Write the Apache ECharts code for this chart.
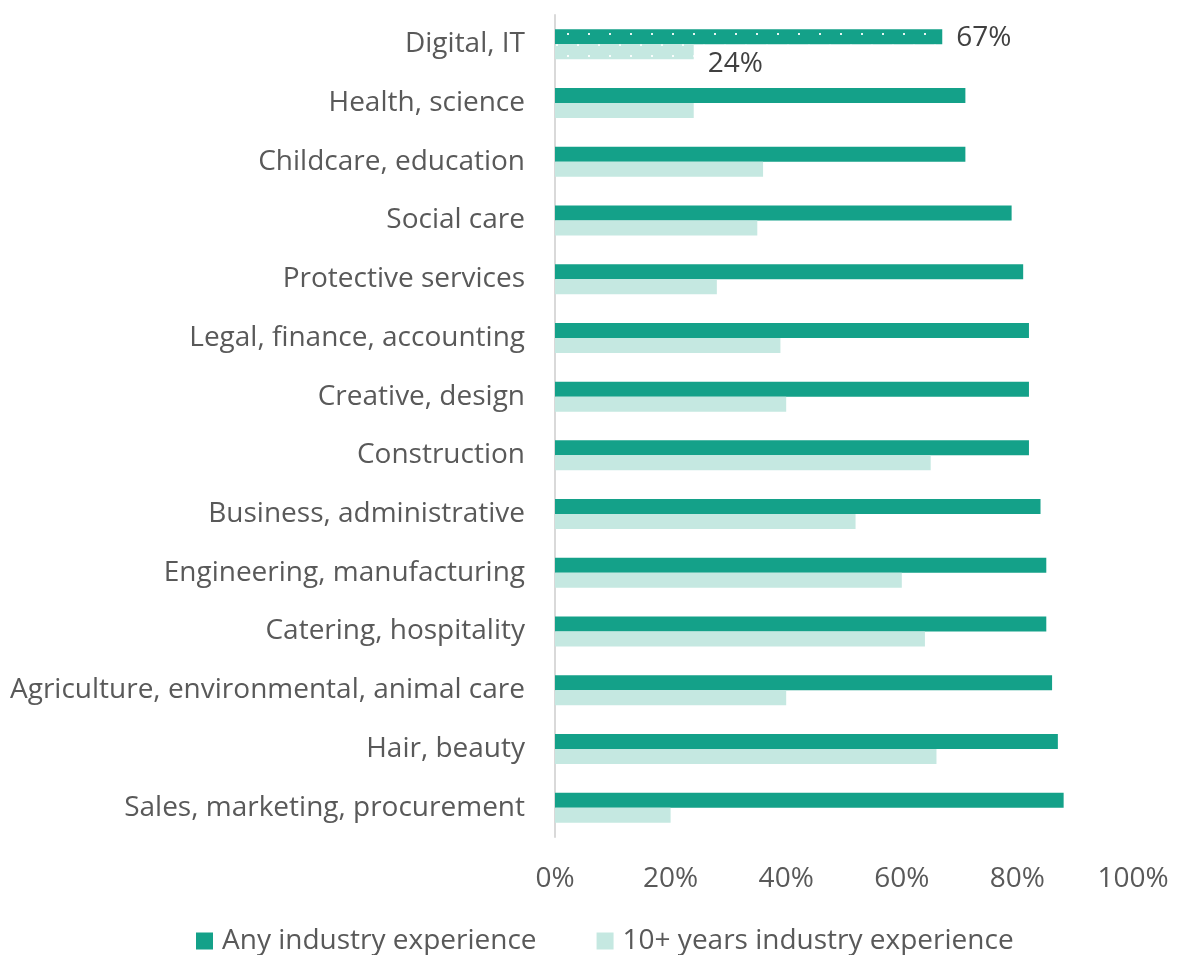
<!DOCTYPE html>
<html>
<head>
<meta charset="utf-8">
<script src="https://cdn.jsdelivr.net/npm/echarts@6/dist/echarts.min.js"></script>
<style>
  html, body { margin: 0; padding: 0; background: #fff; }
  #chart { width: 1178px; height: 955px; }
</style>
</head>
<body>
<div id="chart"></div>
<script>
// Share of job postings by sector
const categories = [
  'Digital, IT', 'Health, science', 'Childcare, education', 'Social care',
  'Protective services', 'Legal, finance, accounting', 'Creative, design',
  'Construction', 'Business, administrative', 'Engineering, manufacturing',
  'Catering, hospitality', 'Agriculture, environmental, animal care',
  'Hair, beauty', 'Sales, marketing, procurement'
];
const anyExperience = [67, 71, 71, 79, 81, 82, 82, 82, 84, 85, 85, 86, 87, 88];
const tenPlusExperience = [24, 24, 36, 35, 28, 39, 40, 65, 52, 60, 64, 40, 66, 20];
const seriesNames = ['Any industry experience', '10+ years industry experience'];
const labelledCategory = 'Digital, IT';

const FONT = 'Open Sans';
const FS = 28;
const DARK = '#14A189';
const LIGHT = '#C5E8E1';

// Dotted fill used for the highlighted sector
const dots = {
  symbol: 'rect',
  symbolSize: 1,
  color: 'rgba(255,255,255,0.9)',
  dashArrayX: [[2, 19], [0, 10, 2, 9]],
  dashArrayY: [2, 8.5],
  rotation: 0
};

function buildData(values, labelOffset) {
  return values.map((v, i) => {
    if (categories[i] === labelledCategory) {
      return {
        value: v,
        itemStyle: { decal: dots },
        label: {
          show: true, position: 'right', distance: 14, offset: labelOffset,
          formatter: '{c}%', color: '#404040', fontFamily: FONT, fontSize: FS
        }
      };
    }
    return v;
  });
}

const chart = echarts.init(document.getElementById('chart'), null, { renderer: 'canvas' });
chart.setOption({
  backgroundColor: '#fff',
  animation: false,
  aria: { enabled: false },
  grid: { left: 555, right: 45, top: 15, bottom: 118, containLabel: false },
  legend: {
    top: 922,
    left: 191,
    itemWidth: 17,
    itemHeight: 17,
    itemGap: 60,
    icon: 'rect',
    textStyle: { color: '#595959', fontFamily: FONT, fontSize: FS, padding: [0, 0, 0, 4] },
    data: seriesNames
  },
  xAxis: {
    type: 'value',
    min: 0, max: 100, interval: 20,
    axisLine: { show: false },
    axisTick: { show: false },
    splitLine: { show: false },
    axisLabel: {
      formatter: '{value}%', color: '#595959', fontFamily: FONT, fontSize: FS, margin: 28
    }
  },
  yAxis: {
    type: 'category',
    inverse: true,
    data: categories,
    axisLine: { show: true, lineStyle: { color: '#D9D9D9', width: 2 } },
    axisTick: { show: false },
    axisLabel: { color: '#595959', fontFamily: FONT, fontSize: FS, margin: 30 }
  },
  series: [
    {
      name: seriesNames[0], type: 'bar', barWidth: 15, barGap: '0%',
      itemStyle: { color: DARK },
      data: buildData(anyExperience, [0, 1])
    },
    {
      name: seriesNames[1], type: 'bar', barWidth: 15, barGap: '0%',
      itemStyle: { color: LIGHT },
      data: buildData(tenPlusExperience, [0, 12])
    }
  ]
});
</script>
</body>
</html>
